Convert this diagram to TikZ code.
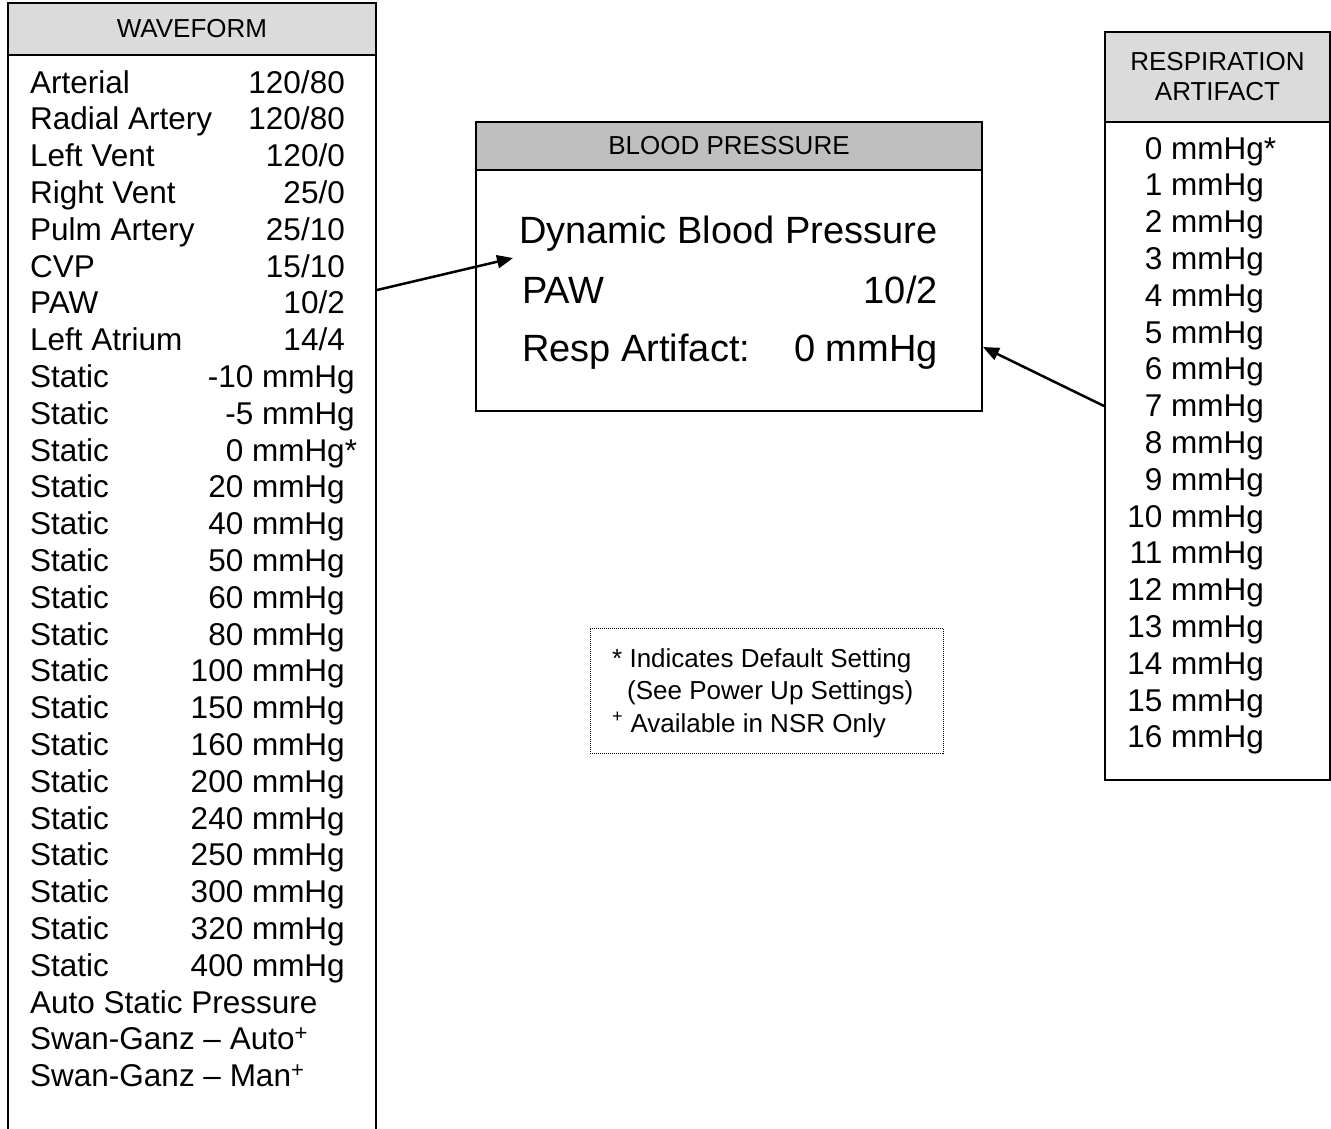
\documentclass[tikz,border=0pt]{standalone}
\usepackage{fontspec}
\setmainfont{Liberation Sans}
\usetikzlibrary{arrows.meta}
\definecolor{hdrlight}{gray}{0.86}
\definecolor{hdrdark}{gray}{0.75}

\begin{document}
\begin{tikzpicture}[x=1pt, y=-1pt,
        box/.style={draw, line width=2pt, rectangle, inner sep=0pt},
        headtext/.style={font=\fontsize{26}{30}\selectfont, align=center},
        rowtext/.style={inner sep=0pt, font=\fontsize{31.5}{36}\selectfont},
        lcdtext/.style={inner sep=0pt, font=\fontsize{38}{44}\selectfont},
        notetext/.style={inner sep=0pt, anchor=base west, font=\fontsize{26}{32}\selectfont},
        arr/.style={-{Triangle[length=16pt,width=13pt]}, line width=2.5pt}]
        \clip (0,0) rectangle (1331,1128);

        % Waveform list
        \node[box, fill=hdrlight, minimum width=368pt, minimum height=52pt, headtext] (wavehead) at (192,29) {WAVEFORM};
        \node[box, minimum width=368pt, minimum height=1120pt] (wavebody) at (192,615) {};
        \foreach \lbl/\val/\vx [count=\i from 0] in {Arterial/{120/80}/345, Radial Artery/{120/80}/345,
            Left Vent/{120/0}/345, Right Vent/{25/0}/345, Pulm Artery/{25/10}/345, CVP/{15/10}/345,
            PAW/{10/2}/345, Left Atrium/{14/4}/345, Static/-10 mmHg/355, Static/-5 mmHg/355,
            Static/{0 mmHg\rlap{*}}/345, Static/20 mmHg/345, Static/40 mmHg/345, Static/50 mmHg/345,
            Static/60 mmHg/345, Static/80 mmHg/345, Static/100 mmHg/345, Static/150 mmHg/345,
            Static/160 mmHg/345, Static/200 mmHg/345, Static/240 mmHg/345, Static/250 mmHg/345,
            Static/300 mmHg/345, Static/320 mmHg/345, Static/400 mmHg/345,
            Auto Static Pressure//345, Swan-Ganz – Auto\textsuperscript{+}//345,
            Swan-Ganz – Man\textsuperscript{+}//345}
        {
            \node[rowtext, anchor=base west] (wl\i) at (30,{93+36.8*\i}) {\lbl};
            \node[rowtext, anchor=base east] (wv\i) at (\vx,{93+36.8*\i}) {\val};
        }

        % Blood pressure display
        \node[box, fill=hdrdark, minimum width=506pt, minimum height=48pt, headtext] (bphead) at (729,146) {BLOOD PRESSURE};
        \node[box, minimum width=506pt, minimum height=241pt] (bpbody) at (729,290.5) {};
        \node[lcdtext, anchor=base west] (dyn) at (519,243) {Dynamic Blood Pressure};
        \node[lcdtext, anchor=base west] (paw) at (522,303) {PAW};
        \node[lcdtext, anchor=base east] (pawval) at (938,303) {10/2};
        \node[lcdtext, anchor=base west] (resp) at (522,361) {Resp Artifact:};
        \node[lcdtext, anchor=base east] (respval) at (938,361) {0 mmHg};

        % Respiration artifact list
        \node[box, fill=hdrlight, minimum width=225pt, minimum height=90pt, headtext] (resphead) at (1217.5,77) {RESPIRATION\\ARTIFACT};
        \node[box, minimum width=225pt, minimum height=658pt] (respbody) at (1217.5,451) {};
        \foreach \v [count=\i from 0] in {0,...,16}
            \node[rowtext, anchor=base east] (r\i) at (1264,{159+36.8*\i}) {\v\ mmHg\ifnum\v=0 \rlap{*}\fi};

        % Notes
        \node[draw, line width=1pt, dash pattern=on 1pt off 1pt, minimum width=353pt, minimum height=125pt] (note) at (766.5,690.5) {};
        \node[notetext] (note1) at (612,667) {* Indicates Default Setting};
        \node[notetext] (note2) at (627,699) {(See Power Up Settings)};
        \node[notetext] (note3) at (612,732) {\textsuperscript{+} Available in NSR Only};

        % Connections
        \coordinate (pawtip) at (513,258);
        \draw[arr] (wavebody.east |- 0,290) -- (pawtip);
        \draw[arr] (respbody.west |- 0,406) -- (bpbody.east |- 0,347);
    \end{tikzpicture}
\end{document}
